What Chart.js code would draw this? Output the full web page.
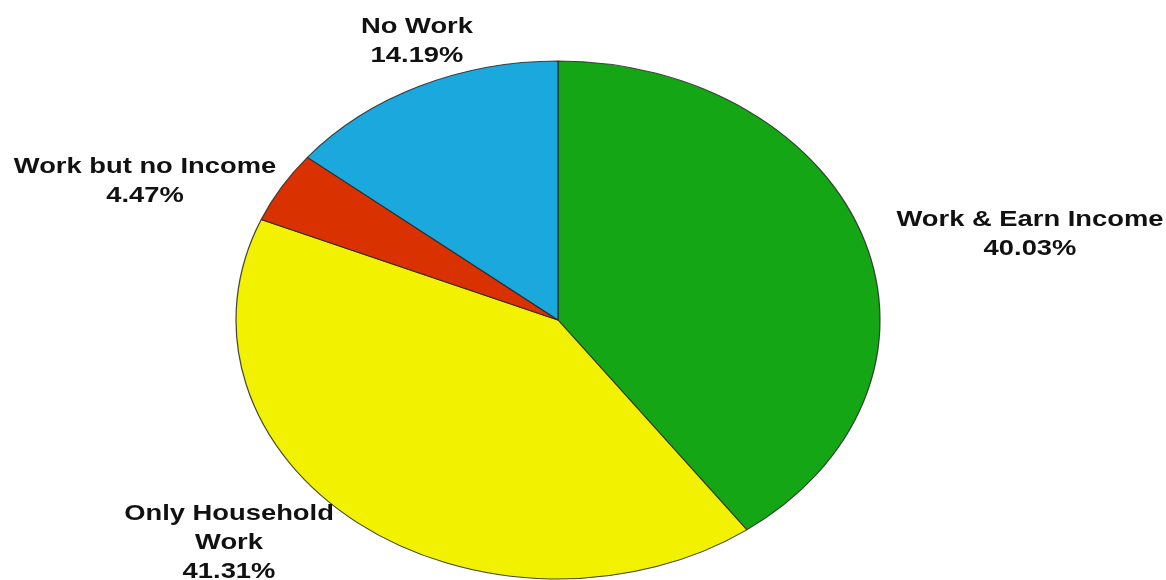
<!DOCTYPE html>
<html>
<head>
<meta charset="utf-8">
<title>Work status</title>
<script src="https://cdn.jsdelivr.net/npm/chart.js@4.4.1/dist/chart.umd.min.js"></script>
<style>
  html, body { margin: 0; padding: 0; background: #fff; }
  #wrap { width: 1166px; height: 580px; }
</style>
</head>
<body>
<div id="wrap"><canvas id="pie" width="1166" height="580"></canvas></div>
<script>
// slices, clockwise from 12 o'clock
const categories = ["Work & Earn Income", "Only Household Work", "Work but no Income", "No Work"];
const shares = [40.03, 41.31, 4.47, 14.19];
const sliceColors = ["#14a614", "#f2f200", "#d93200", "#1ba8dd"];

// label text lines (name split where it wraps) and where each block sits
const labelLines = [
  ["Work & Earn Income"],
  ["Only Household", "Work"],
  ["Work but no Income"],
  ["No Work"]
];
const labelAnchors = [
  { x: 1030, y: 226 },
  { x: 229, y: 520 },
  { x: 145, y: 173 },
  { x: 417, y: 33 }
];

const RADIUS = 259;          // vertical radius of the pie
const STRETCH = 322 / 259;   // pie is wider than tall
const LINE_H = 29;

// squash the round pie into an ellipse
const ellipsePlugin = {
  id: "ellipse",
  beforeDatasetsDraw(chart) {
    const arc = chart.getDatasetMeta(0).data[0];
    if (!arc) return;
    const ctx = chart.ctx;
    ctx.save();
    ctx.translate(arc.x, arc.y);
    ctx.scale(STRETCH, 1);
    ctx.translate(-arc.x, -arc.y);
  },
  afterDatasetsDraw(chart) {
    chart.ctx.restore();
  }
};

// category name + percentage, drawn with the same horizontal stretch
const labelPlugin = {
  id: "sliceLabels",
  afterDraw(chart) {
    const ctx = chart.ctx;
    ctx.save();
    ctx.fillStyle = "#111";
    ctx.font = "bold 22px 'Liberation Sans', Arial, sans-serif";
    ctx.textAlign = "center";
    ctx.textBaseline = "alphabetic";
    shares.forEach((v, i) => {
      const lines = labelLines[i].concat([v.toFixed(2) + "%"]);
      const a = labelAnchors[i];
      lines.forEach((txt, j) => {
        ctx.save();
        ctx.translate(a.x, a.y + j * LINE_H);
        ctx.scale(STRETCH, 1);
        ctx.fillText(txt, 0, 0);
        ctx.restore();
      });
    });
    ctx.restore();
  }
};

new Chart(document.getElementById("pie").getContext("2d"), {
  type: "pie",
  data: {
    labels: categories,
    datasets: [{
      data: shares,
      backgroundColor: sliceColors,
      borderColor: "rgba(40,40,40,0.85)",
      borderWidth: 1,
      hoverOffset: 0
    }]
  },
  options: {
    responsive: false,
    animation: false,
    devicePixelRatio: 1,
    radius: RADIUS,
    layout: { padding: { top: 61, bottom: 1, left: 250, right: 300 } },
    plugins: {
      legend: { display: false },
      tooltip: { enabled: false }
    }
  },
  plugins: [ellipsePlugin, labelPlugin]
});
</script>
</body>
</html>
